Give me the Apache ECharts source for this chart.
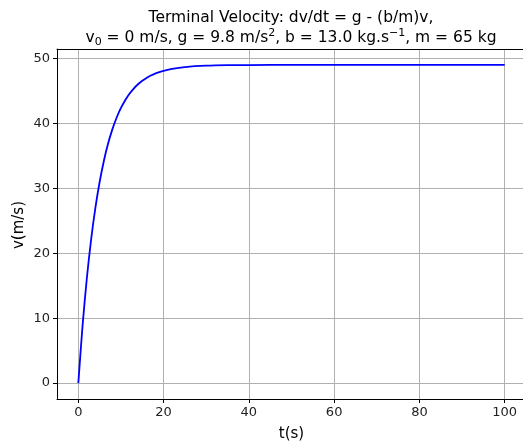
<!DOCTYPE html>
<html>
<head>
<meta charset="utf-8">
<script src="https://cdn.jsdelivr.net/npm/echarts@6/dist/echarts.min.js"></script>
<style>html,body{margin:0;padding:0;background:#fff;overflow:hidden}#c{width:523px;height:442px}</style>
</head>
<body>
<div id="c"></div>
<script>
const tValues = [0,1,2,3,4,5,6,7,8,9,10,11,12,13,14,15,16,17,18,19,20,22,25,30,35,40,50,60,70,80,90,100];
const vValues = [0,8.88,16.15,22.11,26.98,30.97,34.24,36.92,39.11,40.90,42.37,43.57,44.56,45.36,46.02,46.56,47.00,47.36,47.66,47.90,48.10,48.40,48.67,48.88,48.96,48.98,49.0,49.0,49.0,49.0,49.0,49.0];
const xTicks = [0,20,40,60,80,100];
const yTicks = [0,10,20,30,40,50];
const yName = 'v(m/s)';
const titleLine1 = 'Terminal Velocity: dv/dt = g - (b/m)v,';
const titleLine2 = '{n|v}{sub|0}{n| = 0 m/s, g = 9.8 m/s}{sup|2}{n|, b = 13.0 kg.s}{sup|−1}{n|, m = 65 kg}';

const chart = echarts.init(document.getElementById('c'), null, {renderer:'canvas'});
const font = 'DejaVu Sans';
chart.setOption({
  animation:false,
  backgroundColor:'#fff',
  title:{
    text: '{n|' + titleLine1 + '}\n' + titleLine2,
    left: 286, top: 3, textAlign:'center',
    textStyle:{fontFamily:font,fontSize:15.5,fontWeight:'normal',color:'#000',lineHeight:20,
      rich:{
        n:{fontFamily:font,fontSize:15.5,color:'#000',lineHeight:20},
        sub:{fontFamily:font,fontSize:11,color:'#000',lineHeight:20,verticalAlign:'bottom'},
        sup:{fontFamily:font,fontSize:11,color:'#000',lineHeight:20,verticalAlign:'top'}
      }}
  },
  graphic:[{
    type:'text', x:19, y:225, rotation:Math.PI/2,
    style:{text:yName, fontFamily:font, fontSize:15, fill:'#000', align:'center', verticalAlign:'middle'}
  }],
  grid:{left:57,width:469,top:49,height:350,show:false,outerBoundsMode:'none'},
  xAxis:[{
    type:'value',min:-5,max:105,
    name:'t(s)',nameLocation:'middle',nameGap:28,
    nameTextStyle:{fontFamily:font,fontSize:15,color:'#000'},
    axisLine:{show:true,onZero:false,lineStyle:{color:'#000',width:1}},
    axisTick:{show:true,length:4,inside:false,customValues:xTicks,lineStyle:{color:'#000'}},
    axisLabel:{customValues:xTicks,fontFamily:font,fontSize:13,color:'#222',margin:7},
    splitLine:{show:true,lineStyle:{color:'#b0b0b0',width:1}}
  },{
    type:'value',min:-5,max:105,position:'top',
    axisLine:{show:true,onZero:false,lineStyle:{color:'#000',width:1}},
    axisTick:{show:false},axisLabel:{show:false},splitLine:{show:false}
  }],
  yAxis:{
    type:'value',min:-2.45,max:51.45,
    axisLine:{show:true,onZero:false,lineStyle:{color:'#000',width:1}},
    axisTick:{show:true,length:4,inside:false,customValues:yTicks,lineStyle:{color:'#000'}},
    axisLabel:{customValues:yTicks,fontFamily:font,fontSize:13,color:'#222',margin:7},
    splitLine:{show:true,lineStyle:{color:'#b0b0b0',width:1}}
  },
  series:[{
    type:'line',
    xAxisIndex:0,
    data:tValues.map((t,i)=>[t,vValues[i]]),
    smooth:0.3,
    showSymbol:false,
    lineStyle:{color:'#0000ff',width:1.8},
    itemStyle:{color:'#0000ff'}
  }]
});
</script>
</body>
</html>
